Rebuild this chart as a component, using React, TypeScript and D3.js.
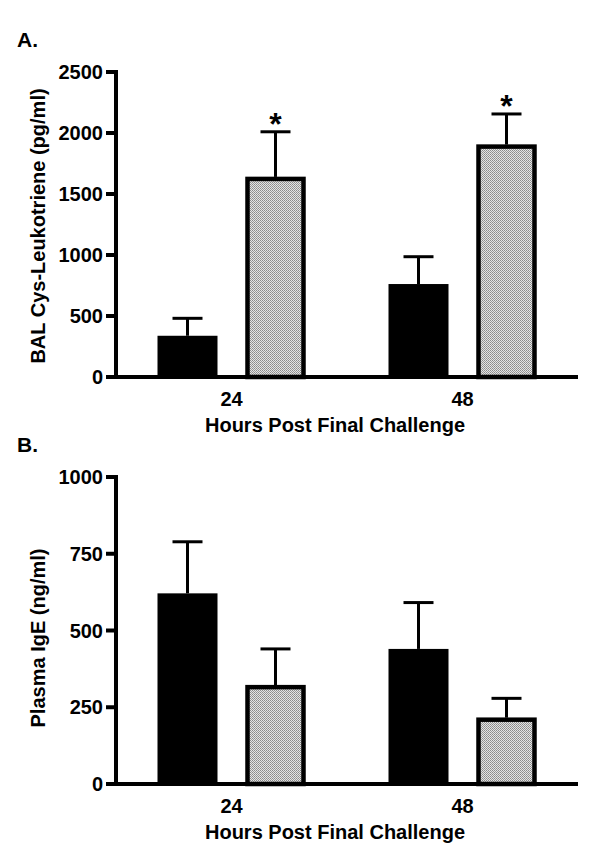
import React from "react";
import * as d3 from "d3";

const groups = ["24", "48"];
const series = ["control", "treated"];
const balMeans = [[338, 1640], [762, 1905]];
const balErr = [[481, 2010], [986, 2156]];
const balSig = [[false, true], [false, true]];
const balTicks = [0, 500, 1000, 1500, 2000, 2500];
const igeMeans = [[621, 322], [440, 216]];
const igeErr = [[789, 440], [591, 279]];
const igeSig = [[false, false], [false, false]];
const igeTicks = [0, 250, 500, 750, 1000];

const FONT = "'Liberation Sans', Arial, Helvetica, sans-serif";

type PanelProps = {
  letter: string;
  yLabel: string;
  means: number[][];
  errs: number[][];
  sig: boolean[][];
  ticks: number[];
  yTop: number;
  yBase: number;
  labelCenter: number;
};

function Panel({ letter, yLabel, means, errs, sig, ticks, yTop, yBase, labelCenter }: PanelProps) {
  const axisX = 116;
  const xEnd = 578;
  const y = d3.scaleLinear().domain([0, ticks[ticks.length - 1]]).range([yBase, yTop]);
  const x0 = d3.scaleBand().domain(groups).range([axisX, xEnd]).padding(0);
  const x1 = d3.scalePoint().domain(series).range([-44, 44]);
  const barW = 60;
  return (
    <g>
      <text x={17} y={yTop - 25} fontFamily={FONT} fontWeight="bold" fontSize={21}>{letter}</text>
      {groups.map((g, gi) =>
        series.map((s, si) => {
          const cx = (x0(g) as number) + x0.bandwidth() / 2 + (x1(s) as number);
          const v = means[gi][si];
          const e = errs[gi][si];
          const yv = y(v);
          const ye = y(e);
          return (
            <g key={g + s}>
              <line x1={cx} x2={cx} y1={yv} y2={ye} stroke="#000" strokeWidth={3} />
              <line x1={cx - 15} x2={cx + 15} y1={ye} y2={ye} stroke="#000" strokeWidth={3} />
              {si === 0 ? (
                <rect x={cx - barW / 2} y={yv} width={barW} height={yBase - yv} fill="#000" />
              ) : (
                <rect
                  x={cx - barW / 2 + 2}
                  y={yv + 2}
                  width={barW - 4}
                  height={yBase - yv - 2}
                  fill="url(#hatch)"
                  stroke="#000"
                  strokeWidth={4.5}
                />
              )}
              {sig[gi][si] && (
                <text x={cx} y={ye + 3} textAnchor="middle" fontFamily={FONT} fontWeight="bold" fontSize={32}>*</text>
              )}
            </g>
          );
        })
      )}
      <line x1={axisX} x2={axisX} y1={yTop - 2} y2={yBase + 2} stroke="#000" strokeWidth={4} />
      {ticks.map((t) => (
        <g key={t}>
          <line x1={axisX - 10} x2={axisX} y1={y(t)} y2={y(t)} stroke="#000" strokeWidth={4} />
          <text x={103} y={y(t) + 7} textAnchor="end" fontFamily={FONT} fontWeight="bold" fontSize={20}>{t}</text>
        </g>
      ))}
      <line x1={axisX - 2} x2={xEnd} y1={yBase} y2={yBase} stroke="#000" strokeWidth={4} />
      {groups.map((g) => (
        <text key={g} x={(x0(g) as number) + x0.bandwidth() / 2} y={yBase + 29} textAnchor="middle" fontFamily={FONT} fontWeight="bold" fontSize={20}>{g}</text>
      ))}
      <text x={335} y={yBase + 55} textAnchor="middle" fontFamily={FONT} fontWeight="bold" fontSize={20}>Hours Post Final Challenge</text>
      <text
        transform={`translate(45,${labelCenter}) rotate(-90)`}
        textAnchor="middle"
        fontFamily={FONT}
        fontWeight="bold"
        fontSize={20}
      >{yLabel}</text>
    </g>
  );
}

export default function App() {
  return (
    <svg width={600} height={852} style={{ position: "absolute", left: 0, top: 0, background: "#fff" }}>
      <defs>
        <pattern id="hatch" width={2} height={2} patternUnits="userSpaceOnUse">
          <rect width={2} height={2} fill="#e4e4e4" />
          <rect x={0} y={0} width={1} height={1} fill="#8a8a8a" />
          <rect x={1} y={1} width={1} height={1} fill="#9a9a9a" />
        </pattern>
      </defs>
      <rect width={600} height={852} fill="#fff" />
      <Panel
        letter="A."
        yLabel="BAL Cys-Leukotriene (pg/ml)"
        means={balMeans}
        errs={balErr}
        sig={balSig}
        ticks={balTicks}
        yTop={72}
        yBase={377}
        labelCenter={226}
      />
      <Panel
        letter="B."
        yLabel="Plasma IgE (ng/ml)"
        means={igeMeans}
        errs={igeErr}
        sig={igeSig}
        ticks={igeTicks}
        yTop={477}
        yBase={784}
        labelCenter={638}
      />
    </svg>
  );
}
